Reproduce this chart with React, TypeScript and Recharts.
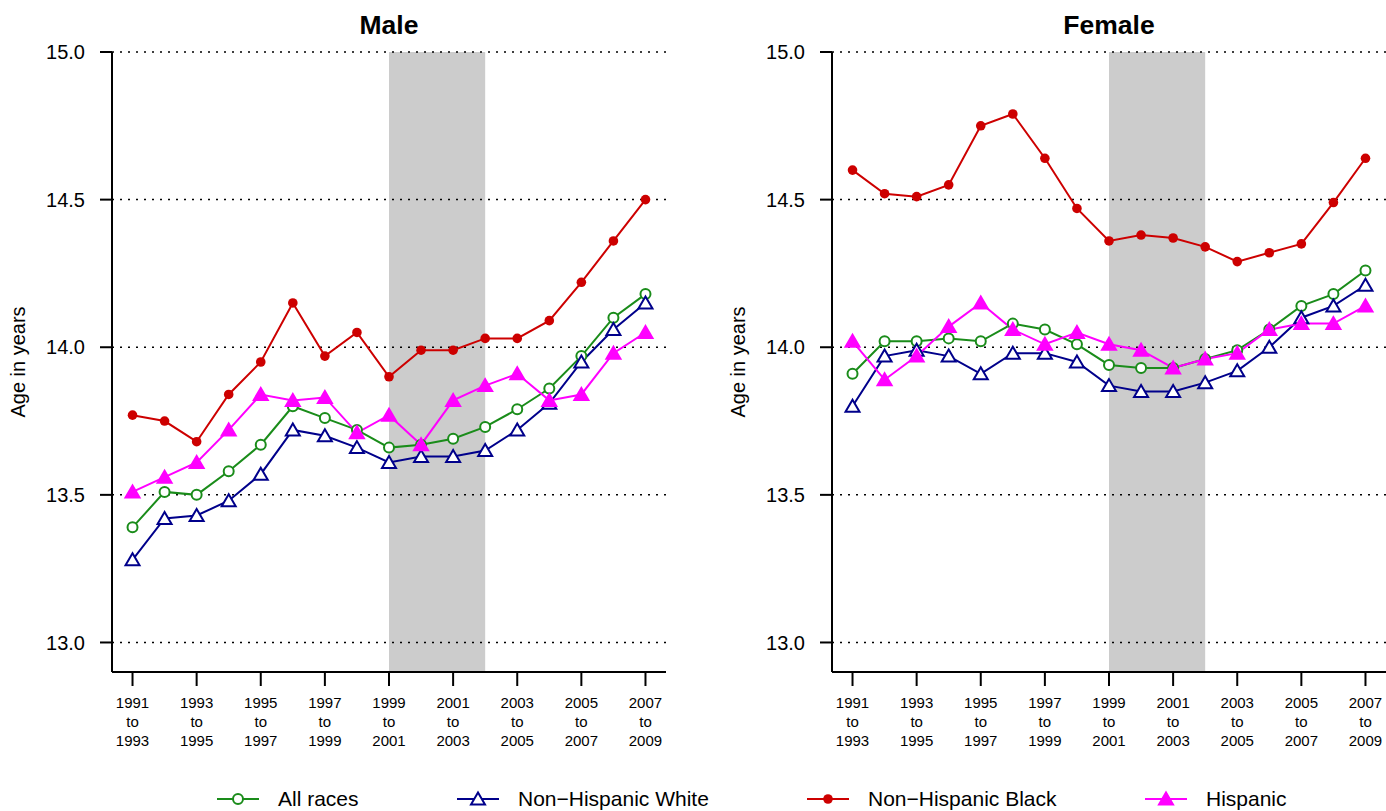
import React from "react";
import {
  LineChart,
  Line,
  XAxis,
  YAxis,
  ReferenceArea,
  ReferenceLine,
} from "recharts";

const FONT = "'Liberation Sans', Arial, Helvetica, sans-serif";

// survey periods, by start year
const years = [1991, 1992, 1993, 1994, 1995, 1996, 1997, 1998, 1999, 2000, 2001, 2002, 2003, 2004, 2005, 2006, 2007];
const tickYears = [1991, 1993, 1995, 1997, 1999, 2001, 2003, 2005, 2007];
const tickEnds = ["1993", "1995", "1997", "1999", "2001", "2003", "2005", "2007", "2009"];
const yTicks = [13.0, 13.5, 14.0, 14.5, 15.0];

// Male
const maleAll = [13.39, 13.51, 13.5, 13.58, 13.67, 13.8, 13.76, 13.72, 13.66, 13.67, 13.69, 13.73, 13.79, 13.86, 13.97, 14.1, 14.18];
const maleWhite = [13.28, 13.42, 13.43, 13.48, 13.57, 13.72, 13.7, 13.66, 13.61, 13.63, 13.63, 13.65, 13.72, 13.81, 13.95, 14.06, 14.15];
const maleBlack = [13.77, 13.75, 13.68, 13.84, 13.95, 14.15, 13.97, 14.05, 13.9, 13.99, 13.99, 14.03, 14.03, 14.09, 14.22, 14.36, 14.5];
const maleHispanic = [13.51, 13.56, 13.61, 13.72, 13.84, 13.82, 13.83, 13.71, 13.77, 13.67, 13.82, 13.87, 13.91, 13.82, 13.84, 13.98, 14.05];

// Female
const femaleAll = [13.91, 14.02, 14.02, 14.03, 14.02, 14.08, 14.06, 14.01, 13.94, 13.93, 13.93, 13.96, 13.99, 14.06, 14.14, 14.18, 14.26];
const femaleWhite = [13.8, 13.97, 13.99, 13.97, 13.91, 13.98, 13.98, 13.95, 13.87, 13.85, 13.85, 13.88, 13.92, 14.0, 14.1, 14.14, 14.21];
const femaleBlack = [14.6, 14.52, 14.51, 14.55, 14.75, 14.79, 14.64, 14.47, 14.36, 14.38, 14.37, 14.34, 14.29, 14.32, 14.35, 14.49, 14.64];
const femaleHispanic = [14.02, 13.89, 13.97, 14.07, 14.15, 14.06, 14.01, 14.05, 14.01, 13.99, 13.93, 13.96, 13.98, 14.06, 14.08, 14.08, 14.14];

const COLORS = {
  all: "#1a8c1a",
  white: "#00008b",
  black: "#cd0000",
  hispanic: "#ff00ff",
};

const buildRows = (all: number[], white: number[], black: number[], hispanic: number[]) =>
  years.map((year, i) => ({ year, all: all[i], white: white[i], black: black[i], hispanic: hispanic[i] }));

const triPoints = (cx: number, cy: number) =>
  `${cx},${cy - 6.5} ${cx - 7},${cy + 5.5} ${cx + 7},${cy + 5.5}`;

const triangleDot = (color: string, filled: boolean) => (props: any) => {
  const { cx, cy, index } = props;
  if (cx == null || cy == null) return <g key={`e-${index}`} />;
  return (
    <polygon
      key={`t-${index}`}
      points={triPoints(cx, cy)}
      fill={filled ? color : "#fff"}
      stroke={color}
      strokeWidth={2}
      strokeLinejoin="miter"
    />
  );
};

const PeriodTick = (props: any) => {
  const { x, y, payload } = props;
  const i = tickYears.indexOf(payload.value);
  return (
    <text x={x} y={y} textAnchor="middle" fontSize={15} fontFamily={FONT} fill="#000">
      <tspan x={x} dy={22}>{payload.value}</tspan>
      <tspan x={x} dy={19}>to</tspan>
      <tspan x={x} dy={19}>{tickEnds[i]}</tspan>
    </text>
  );
};

const AgeLabel = (props: any) => {
  const vb = props.viewBox || {};
  const x = (vb.x ?? 0) + 18;
  const y = (vb.y ?? 0) + (vb.height ?? 0) / 2;
  return (
    <text
      x={x}
      y={y}
      transform={`rotate(-90, ${x}, ${y})`}
      textAnchor="middle"
      dominantBaseline="central"
      fontSize={20}
      fontFamily={FONT}
      fill="#000"
    >
      Age in years
    </text>
  );
};

interface PanelProps {
  rows: ReturnType<typeof buildRows>;
  left: number;
  width: number;
  right: number;
}

function Panel({ rows, left, width, right }: PanelProps) {
  return (
    <div style={{ position: "absolute", left, top: 0 }}>
      <LineChart width={width} height={760} data={rows} margin={{ top: 52, right, left: 0, bottom: 0 }}>
        <XAxis
          dataKey="year"
          type="number"
          domain={[1990.36, 2007.64]}
          allowDataOverflow
          ticks={tickYears}
          interval={0}
          height={88}
          tickSize={14}
          tickMargin={0}
          axisLine={{ stroke: "#000", strokeWidth: 2 }}
          tickLine={{ stroke: "#000", strokeWidth: 2 }}
          tick={<PeriodTick />}
        />
        <YAxis
          type="number"
          domain={[12.9, 15.0]}
          allowDataOverflow
          ticks={yTicks}
          interval={0}
          width={112}
          tickSize={12}
          tickMargin={15}
          tickFormatter={(v: number) => v.toFixed(1)}
          axisLine={{ stroke: "#000", strokeWidth: 2 }}
          tickLine={{ stroke: "#000", strokeWidth: 2 }}
          tick={{ fontSize: 20, fontFamily: FONT, fill: "#000" }}
          label={<AgeLabel />}
        />
        <ReferenceArea x1={1999} x2={2002} fill="#cccccc" fillOpacity={1} stroke="none" />
        {yTicks.map((v) => (
          <ReferenceLine key={v} y={v} stroke="#000" strokeWidth={1.5} strokeDasharray="2 6" />
        ))}
        <Line
          dataKey="all"
          type="linear"
          stroke={COLORS.all}
          strokeWidth={2}
          dot={{ r: 5, fill: "#fff", stroke: COLORS.all, strokeWidth: 2 }}
          activeDot={false}
          isAnimationActive={false}
        />
        <Line
          dataKey="white"
          type="linear"
          stroke={COLORS.white}
          strokeWidth={2}
          dot={triangleDot(COLORS.white, false)}
          activeDot={false}
          isAnimationActive={false}
        />
        <Line
          dataKey="black"
          type="linear"
          stroke={COLORS.black}
          strokeWidth={2}
          dot={{ r: 4.8, fill: COLORS.black, stroke: COLORS.black, strokeWidth: 0 }}
          activeDot={false}
          isAnimationActive={false}
        />
        <Line
          dataKey="hispanic"
          type="linear"
          stroke={COLORS.hispanic}
          strokeWidth={2}
          dot={triangleDot(COLORS.hispanic, true)}
          activeDot={false}
          isAnimationActive={false}
        />
      </LineChart>
    </div>
  );
}

const legendItems = [
  { label: "All races", color: COLORS.all, marker: "openCircle", x: 217 },
  { label: "Non\u2212Hispanic White", color: COLORS.white, marker: "openTriangle", x: 457 },
  { label: "Non\u2212Hispanic Black", color: COLORS.black, marker: "dot", x: 807 },
  { label: "Hispanic", color: COLORS.hispanic, marker: "triangle", x: 1145 },
];

function Overlay() {
  const ly = 799;
  return (
    <svg width={1386} height={811} style={{ position: "absolute", left: 0, top: 0, pointerEvents: "none" }}>
      <text x={389} y={34} textAnchor="middle" fontSize={26.5} fontWeight="bold" fontFamily={FONT} fill="#000">
        Male
      </text>
      <text x={1109} y={34} textAnchor="middle" fontSize={26.5} fontWeight="bold" fontFamily={FONT} fill="#000">
        Female
      </text>
      {legendItems.map((it) => {
        const cx = it.x + 21;
        return (
          <g key={it.label}>
            <line x1={it.x} x2={it.x + 42} y1={ly} y2={ly} stroke={it.color} strokeWidth={2} />
            {it.marker === "openCircle" && <circle cx={cx} cy={ly} r={5} fill="#fff" stroke={it.color} strokeWidth={2} />}
            {it.marker === "dot" && <circle cx={cx} cy={ly} r={4.8} fill={it.color} />}
            {it.marker === "openTriangle" && (
              <polygon points={triPoints(cx, ly)} fill="#fff" stroke={it.color} strokeWidth={2} />
            )}
            {it.marker === "triangle" && <polygon points={triPoints(cx, ly)} fill={it.color} stroke={it.color} strokeWidth={2} />}
            <text x={it.x + 61} y={806} fontSize={21} fontFamily={FONT} fill="#000">
              {it.label}
            </text>
          </g>
        );
      })}
    </svg>
  );
}

export default function App() {
  const maleRows = buildRows(maleAll, maleWhite, maleBlack, maleHispanic);
  const femaleRows = buildRows(femaleAll, femaleWhite, femaleBlack, femaleHispanic);
  return (
    <div style={{ position: "absolute", left: 0, top: 0, width: 1386, height: 811, background: "#fff", overflow: "hidden" }}>
      <Panel rows={maleRows} left={0} width={680} right={14} />
      <Panel rows={femaleRows} left={720} width={666} right={0} />
      <Overlay />
    </div>
  );
}
